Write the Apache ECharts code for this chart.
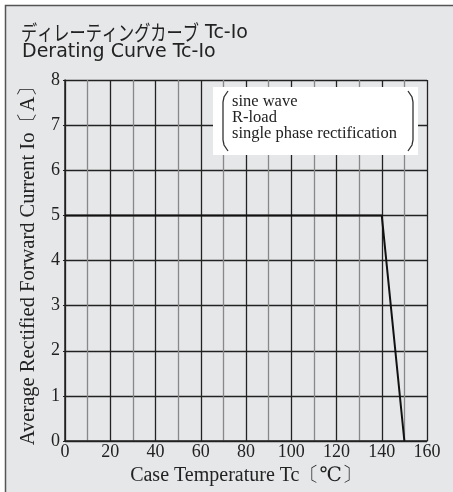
<!DOCTYPE html>
<html><head><meta charset="utf-8">
<script src="https://cdn.jsdelivr.net/npm/echarts@6/dist/echarts.min.js"></script>
<style>html,body{margin:0;padding:0;background:#fff}#c{width:453px;height:492px}</style>
</head><body><div id="c"></div>
<script>
const titleJp = 'ディレーティングカーブ';
const titleSuffix = 'Tc-Io';
const titleEn = 'Derating Curve Tc-Io';
const xName = 'Case Temperature Tc〔℃〕';
const yName = 'Average Rectified Forward Current Io〔A〕';
const noteLines = ['sine wave', 'R-load', 'single phase rectification'];
const tempC = [0, 140, 150];
const currentA = [5, 5, 0];

const chart = echarts.init(document.getElementById('c'));
const serif = '"Liberation Serif", "DejaVu Serif", serif';
const sans = '"DejaVu Sans", "Liberation Sans", sans-serif';
const L = 65, R = 427, T = 80, B = 441;
chart.setOption({
  animation: false,
  backgroundColor: '#fff',
  graphic: [
    {type: 'rect', z: -10, silent: true, shape: {x: 5.5, y: 5.5, width: 460, height: 500},
      style: {fill: '#e6e7e9', stroke: '#555', lineWidth: 1.5}},
    {type: 'text', x: 21, y: 32.5, scaleX: 0.77, z: 10,
      style: {text: titleJp, x: 0, y: 0, verticalAlign: 'middle', fontFamily: '"Noto Sans CJK JP", sans-serif', fontSize: 21, fill: '#222'}},
    {type: 'text', x: 205, y: 33.5, z: 10,
      style: {text: titleSuffix, x: 0, y: 0, verticalAlign: 'middle', fontFamily: sans, fontSize: 19, fill: '#222'}},
    {type: 'text', x: 22, y: 52, z: 10,
      style: {text: titleEn, x: 0, y: 0, verticalAlign: 'middle', fontFamily: sans, fontSize: 19, fill: '#222'}},
    {type: 'rect', z: 5, shape: {x: 213, y: 87, width: 205, height: 68}, style: {fill: '#fff'}},
    {type: 'polyline', z: 6, shape: {points: [[228, 91], [224, 97], [223, 102], [223, 140], [224, 145], [228, 151]]},
      style: {stroke: '#333', lineWidth: 1.3, fill: null}},
    {type: 'polyline', z: 6, shape: {points: [[408, 91], [412, 97], [413, 102], [413, 140], [412, 145], [408, 151]]},
      style: {stroke: '#333', lineWidth: 1.3, fill: null}},
    {type: 'text', z: 7, left: 232, top: 93,
      style: {text: noteLines.join('\n'), font: '16.5px ' + serif, fill: '#222', lineHeight: 16}}
  ],
  grid: {left: L, right: 453 - R, top: T, bottom: 492 - B, show: false},
  xAxis: {
    type: 'value', min: 0, max: 160, interval: 20,
    name: xName, nameLocation: 'middle', nameGap: 19,
    nameTextStyle: {fontFamily: serif, fontSize: 20, color: '#222'},
    axisLine: {show: true, lineStyle: {color: '#222', width: 1.5}},
    axisTick: {show: false},
    axisLabel: {fontFamily: serif, fontSize: 18, color: '#222', margin: 2},
    splitLine: {show: true, lineStyle: {color: '#222', width: 1.3}},
    minorTick: {show: false, splitNumber: 2},
    minorSplitLine: {show: true, lineStyle: {color: '#888', width: 1.3}}
  },
  yAxis: {
    type: 'value', min: 0, max: 8, interval: 1,
    name: yName, nameLocation: 'middle', nameGap: 26,
    nameTextStyle: {fontFamily: serif, fontSize: 20.5, color: '#222'},
    axisLine: {show: true, lineStyle: {color: '#222', width: 1.5}},
    axisTick: {show: true, inside: false, length: 2, lineStyle: {color: '#222'}},
    axisLabel: {fontFamily: serif, fontSize: 18, color: '#222', margin: 5},
    splitLine: {show: true, lineStyle: {color: '#222', width: 1.3}}
  },
  series: [{
    type: 'line', data: tempC.map((t, i) => [t, currentA[i]]),
    symbol: 'none', z: 3,
    lineStyle: {color: '#111', width: 2}
  }]
});
</script></body></html>
